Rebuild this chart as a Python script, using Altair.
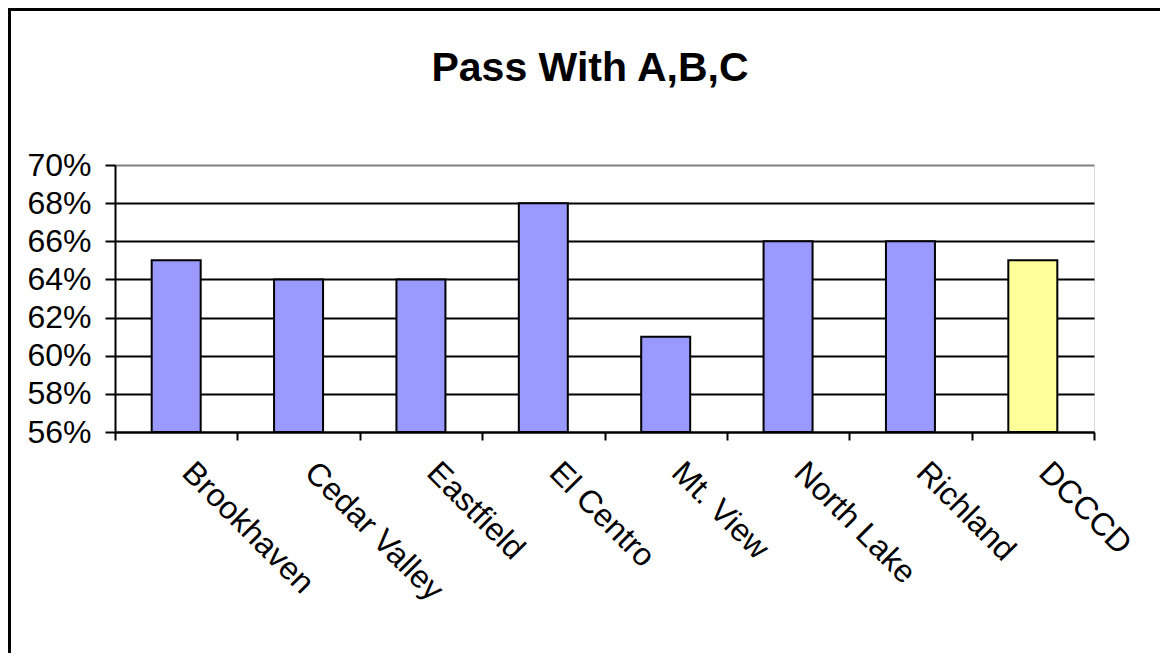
import altair as alt
import pandas as pd

colleges = ["Brookhaven", "Cedar Valley", "Eastfield", "El Centro", "Mt. View",
            "North Lake", "Richland", "DCCCD"]
pass_rate = [0.65, 0.64, 0.64, 0.68, 0.61, 0.66, 0.66, 0.65]
bar_colors = ["#9999FF", "#9999FF", "#9999FF", "#9999FF", "#9999FF",
              "#9999FF", "#9999FF", "#FFFF99"]
y_ticks = [0.56, 0.58, 0.60, 0.62, 0.64, 0.66, 0.68, 0.70]
title_text = "Pass With A,B,C"

df = pd.DataFrame({"college": colleges, "rate": pass_rate, "color": bar_colors})

FONT = "Liberation Sans"

bars = alt.Chart(df).mark_bar(size=49, stroke="black", strokeWidth=2).encode(
    x=alt.X("college:N", sort=colleges, title=None,
            scale=alt.Scale(paddingInner=0, paddingOuter=0),
            axis=alt.Axis(labelAngle=45, labelAlign="left", labelBaseline="middle",
                          labelPadding=27, labelOffset=11, labelFontSize=32,
                          labelFont=FONT, labelColor="black", labelLimit=500,
                          tickBand="extent", tickSize=8, tickColor="black",
                          tickWidth=2, domainColor="black", domainWidth=2,
                          grid=False, labelOverlap=False)),
    y=alt.Y("rate:Q", title=None,
            scale=alt.Scale(domain=[0.56, 0.70], nice=False, zero=False, clamp=True),
            axis=alt.Axis(values=y_ticks, format=".0%", labelFontSize=32,
                          labelFont=FONT, labelColor="black", labelPadding=14,
                          tickSize=10, tickColor="black", tickWidth=2,
                          domainColor="black", domainWidth=2,
                          grid=True, gridWidth=2,
                          gridColor=alt.condition("datum.value >= 0.699",
                                                  alt.value("#808080"),
                                                  alt.value("black")))),
    color=alt.Color("color:N", scale=None),
)

title = alt.Chart(pd.DataFrame({"t": [title_text]})).mark_text(
    fontSize=41, fontWeight="bold", font=FONT, color="black",
    align="center", baseline="middle"
).encode(text="t:N", x=alt.value(475), y=alt.value(-96))

border = alt.Chart(df).mark_rect(fill=None, stroke="black", strokeWidth=3).encode(
    x=alt.value(-106), y=alt.value(-156), x2=alt.value(1200), y2=alt.value(700)
)

chart = alt.layer(bars, title, border).properties(
    width=979, height=267,
    autosize=alt.AutoSizeParams(type="none"),
    padding={"left": 107, "top": 157, "right": 66, "bottom": 221},
).configure_view(stroke="#808080", strokeWidth=2).configure(background="white")

chart.save("out.html", embed_options={"renderer": "svg", "actions": False})
